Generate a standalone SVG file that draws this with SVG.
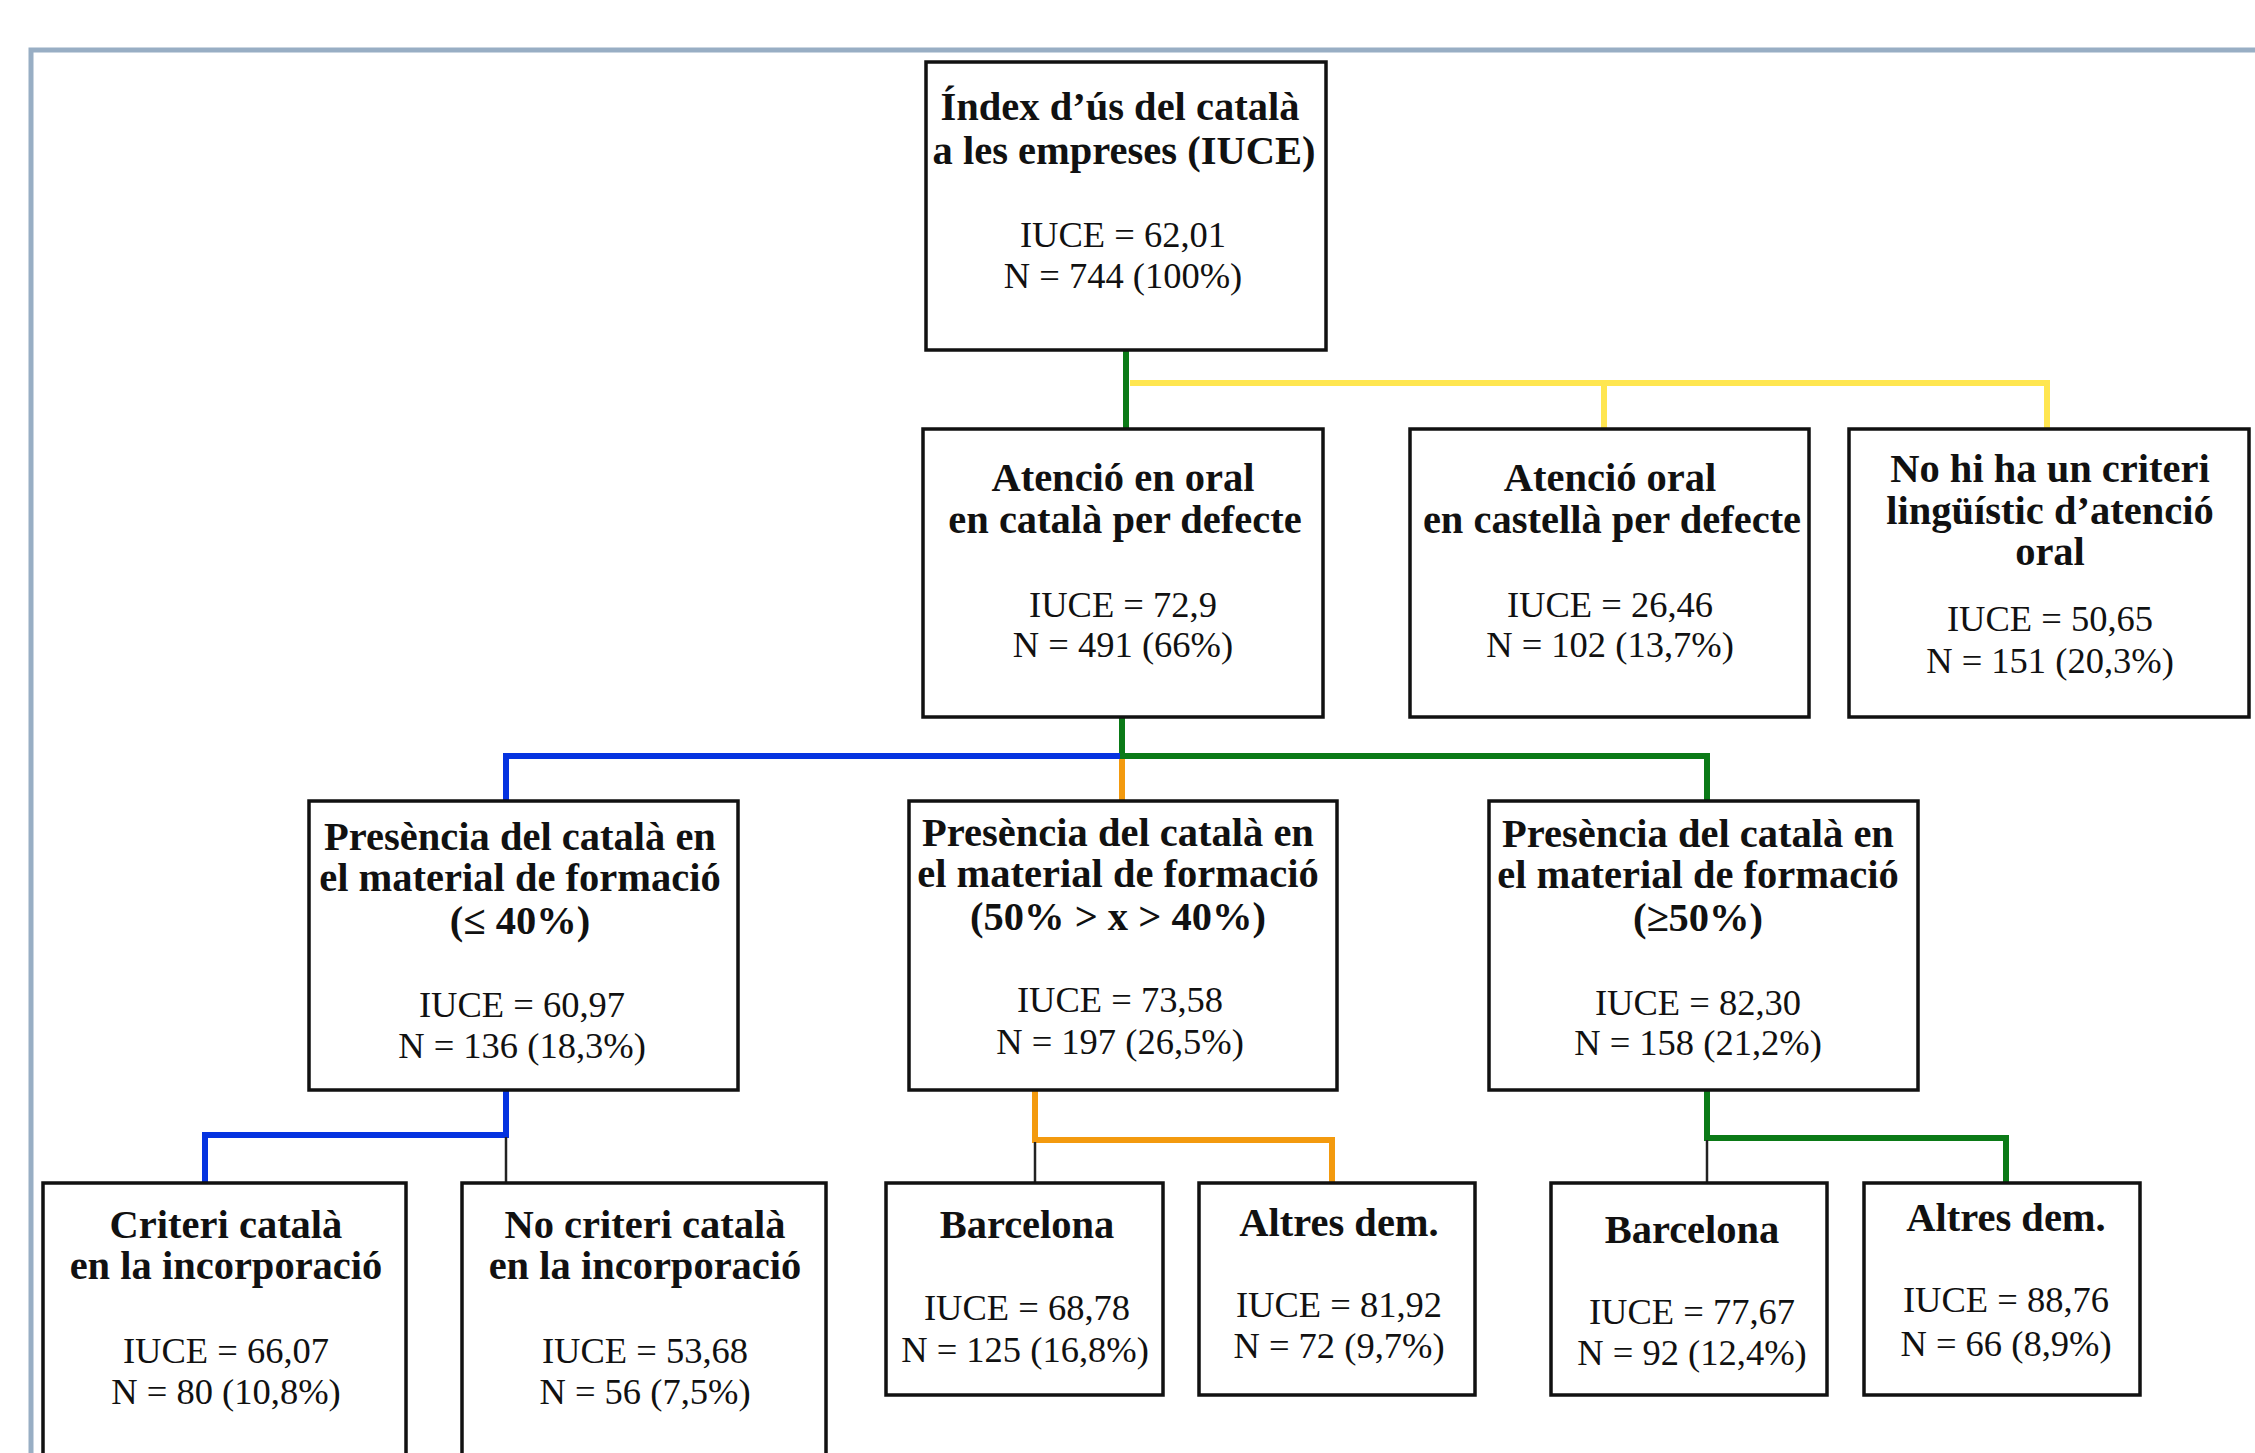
<svg xmlns="http://www.w3.org/2000/svg" width="2255" height="1453" viewBox="0 0 2255 1453">
<style>
.box{fill:#fff;stroke:#111;stroke-width:3.5}
.b{font-family:"Liberation Serif",serif;font-weight:bold;font-size:40.5px;fill:#111;text-anchor:middle}
.r{font-family:"Liberation Serif",serif;font-size:36.5px;fill:#111;text-anchor:middle}
.c{fill:none;stroke-width:6;stroke-linejoin:miter;stroke-linecap:butt}
.g{stroke:#0b7a17}.y{stroke:#ffe650}.bl{stroke:#0533e0}.o{stroke:#f39a0e}
.k{fill:none;stroke:#222;stroke-width:2.5}
</style>
<rect x="0" y="0" width="2255" height="1453" fill="#fff"/>
<path d="M31,1460 V50 H2265" fill="none" stroke="#98aec4" stroke-width="5"/>
<g id="connectors">
<path class="c g" d="M1126,351 V429"/>
<path class="c y" d="M1130,383 H2047 V429 M1604,383 V429"/>
<path class="c g" d="M1122,717 V756 H1707 V801"/>
<path class="c bl" d="M1120,756 H506 V801"/>
<path class="c o" d="M1122,759 V801"/>
<path class="c bl" d="M506,1090 V1135 H205 V1183"/>
<path class="k" d="M506,1137 V1183"/>
<path class="c o" d="M1035,1090 V1140 H1332 V1183"/>
<path class="k" d="M1035,1142 V1183"/>
<path class="c g" d="M1707,1090 V1138 H2006 V1183"/>
<path class="k" d="M1707,1140 V1183"/>
</g>
<g id="root">
<rect class="box" x="926" y="62" width="400" height="288"/>
<text class="b" x="1120" y="120">Índex d’ús del català</text>
<text class="b" x="1124" y="164" font-size="39.5">a les empreses (IUCE)</text>
<text class="r" x="1123" y="247">IUCE = 62,01</text>
<text class="r" x="1123" y="288">N = 744 (100%)</text>
</g>
<g id="n-catala-oral">
<rect class="box" x="923" y="429" width="400" height="288"/>
<text class="b" x="1123" y="491">Atenció en oral</text>
<text class="b" x="1125" y="533">en català per defecte</text>
<text class="r" x="1123" y="617">IUCE = 72,9</text>
<text class="r" x="1123" y="657">N = 491 (66%)</text>
</g>
<g id="n-castella-oral">
<rect class="box" x="1410" y="429" width="399" height="288"/>
<text class="b" x="1610" y="491">Atenció oral</text>
<text class="b" x="1612" y="533">en castellà per defecte</text>
<text class="r" x="1610" y="617">IUCE = 26,46</text>
<text class="r" x="1610" y="657">N = 102 (13,7%)</text>
</g>
<g id="n-sense-criteri">
<rect class="box" x="1849" y="429" width="400" height="288"/>
<text class="b" x="2050" y="482">No hi ha un criteri</text>
<text class="b" x="2050" y="524">lingüístic d’atenció</text>
<text class="b" x="2050" y="565">oral</text>
<text class="r" x="2050" y="631">IUCE = 50,65</text>
<text class="r" x="2050" y="673">N = 151 (20,3%)</text>
</g>
<g id="n-formacio-40">
<rect class="box" x="309" y="801" width="429" height="289"/>
<text class="b" x="520" y="850">Presència del català en</text>
<text class="b" x="520" y="891">el material de formació</text>
<text class="b" x="520" y="934">(≤ 40%)</text>
<text class="r" x="522" y="1017">IUCE = 60,97</text>
<text class="r" x="522" y="1058">N = 136 (18,3%)</text>
</g>
<g id="n-formacio-40-50">
<rect class="box" x="909" y="801" width="428" height="289"/>
<text class="b" x="1118" y="846">Presència del català en</text>
<text class="b" x="1118" y="887">el material de formació</text>
<text class="b" x="1118" y="930">(50% &gt; x &gt; 40%)</text>
<text class="r" x="1120" y="1012">IUCE = 73,58</text>
<text class="r" x="1120" y="1054">N = 197 (26,5%)</text>
</g>
<g id="n-formacio-50">
<rect class="box" x="1489" y="801" width="429" height="289"/>
<text class="b" x="1698" y="847">Presència del català en</text>
<text class="b" x="1698" y="888">el material de formació</text>
<text class="b" x="1698" y="931">(≥50%)</text>
<text class="r" x="1698" y="1015">IUCE = 82,30</text>
<text class="r" x="1698" y="1055">N = 158 (21,2%)</text>
</g>
<g id="n-criteri-catala">
<rect class="box" x="43" y="1183" width="363" height="280"/>
<text class="b" x="226" y="1238">Criteri català</text>
<text class="b" x="226" y="1279">en la incorporació</text>
<text class="r" x="226" y="1363">IUCE = 66,07</text>
<text class="r" x="226" y="1404">N = 80 (10,8%)</text>
</g>
<g id="n-no-criteri-catala">
<rect class="box" x="462" y="1183" width="364" height="280"/>
<text class="b" x="645" y="1238">No criteri català</text>
<text class="b" x="645" y="1279">en la incorporació</text>
<text class="r" x="645" y="1363">IUCE = 53,68</text>
<text class="r" x="645" y="1404">N = 56 (7,5%)</text>
</g>
<g id="n-barcelona-1">
<rect class="box" x="886" y="1183" width="277" height="212"/>
<text class="b" x="1027" y="1238">Barcelona</text>
<text class="r" x="1027" y="1320">IUCE = 68,78</text>
<text class="r" x="1025" y="1362">N = 125 (16,8%)</text>
</g>
<g id="n-altres-1">
<rect class="box" x="1199" y="1183" width="276" height="212"/>
<text class="b" x="1339" y="1236">Altres dem.</text>
<text class="r" x="1339" y="1317">IUCE = 81,92</text>
<text class="r" x="1339" y="1358">N = 72 (9,7%)</text>
</g>
<g id="n-barcelona-2">
<rect class="box" x="1551" y="1183" width="276" height="212"/>
<text class="b" x="1692" y="1243">Barcelona</text>
<text class="r" x="1692" y="1324">IUCE = 77,67</text>
<text class="r" x="1692" y="1365">N = 92 (12,4%)</text>
</g>
<g id="n-altres-2">
<rect class="box" x="1864" y="1183" width="276" height="212"/>
<text class="b" x="2006" y="1231">Altres dem.</text>
<text class="r" x="2006" y="1312">IUCE = 88,76</text>
<text class="r" x="2006" y="1356">N = 66 (8,9%)</text>
</g>
</svg>
